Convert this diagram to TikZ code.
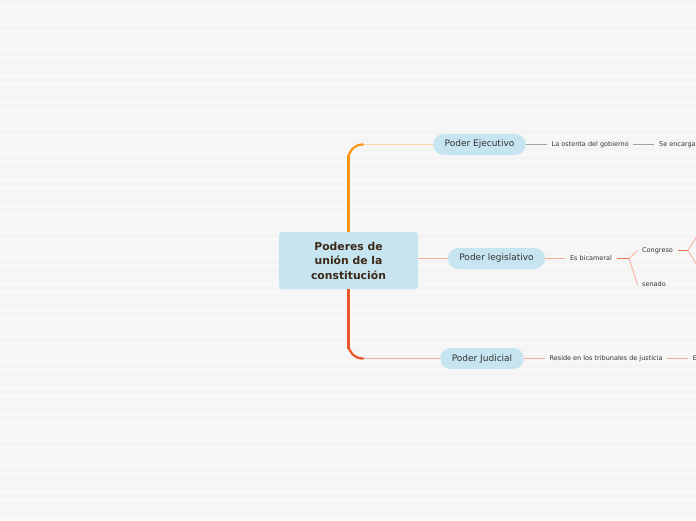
\documentclass[tikz,border=0pt]{standalone}
\usepackage{fontspec}
\setmainfont{DejaVu Sans}
\usetikzlibrary{positioning}

\definecolor{bgcol}{HTML}{F7F7F7}
\definecolor{stripecol}{HTML}{F4F4F4}
\definecolor{pillcol}{HTML}{C6E5F0}
\definecolor{rootink}{HTML}{3B2816}
\definecolor{inkcol}{HTML}{333333}
\definecolor{ejorange}{HTML}{FA9410}
\definecolor{ejlight}{HTML}{FCD7A2}
\definecolor{jured}{HTML}{EB5628}
\definecolor{salmon}{HTML}{F6AC95}
\definecolor{coral}{HTML}{F07650}
\definecolor{greyline}{HTML}{A0A0A0}

\begin{document}
\begin{tikzpicture}[
    x=1pt, y=-1pt,
    node distance=24pt,
    root/.style={fill=pillcol, rounded corners=3pt, minimum width=139pt, minimum height=57pt,
                 align=center, text=rootink, font=\fontsize{10.8}{14.5}\selectfont\bfseries},
    pill/.style={fill=pillcol, rounded corners=10.5pt, minimum height=21pt, inner xsep=11.5pt,
                 text=inkcol, font=\fontsize{9}{10}\selectfont},
    leaf/.style={inner sep=4.5pt, text=inkcol, font=\fontsize{6.5}{7.5}\selectfont},
    stem/.style={line width=3.6pt},
    midstem/.style={line width=2.2pt, rounded corners=14pt},
    twig/.style={line width=0.9pt}
]
\useasboundingbox (0,0) rectangle (696,520);
\clip (0,0) rectangle (696,520);
\fill[bgcol] (0,0) rectangle (696,520);
\foreach \k in {0,...,59}
  \fill[stripecol] (0,\k*8.667) rectangle (696,\k*8.667+4);

% main topic and branches
\node[root] (root) at (348.5,260.5) {Poderes de\\unión de la\\constitución};
\node[pill] (ejec) at (479.5,144.5) {Poder Ejecutivo};
\node[pill] (legis) at (496.5,258.5) {Poder legislativo};
\node[pill] (judic) at (482,358.5) {Poder Judicial};

% sub topics
\node[leaf, right=21pt of ejec] (ostenta) {La ostenta del gobierno};
\node[leaf, right=21pt of ostenta] (encarga) {Se encarga};
\node[leaf, right=20pt of legis] (bicam) {Es bicameral};
\coordinate (bicamfork) at (629,258.5);
\node[leaf, anchor=west] (congreso) at (637.5,250.5) {Congreso};
\node[leaf, anchor=west] (senado) at (637.5,284.5) {senado};
\coordinate (congfork) at (688,250.5);
\coordinate (congup) at (702,228);
\coordinate (congdown) at (702,273);
\node[leaf, right=21pt of judic] (reside) {Reside en los tribunales de justicia};
\node[leaf, right=21pt of reside] (eleaf) {E};

% trunk
\coordinate (ejcorner) at (root.north |- ejec.west);
\coordinate (jucorner) at (root.south |- judic.west);
\draw[twig, ejlight] ([xshift=13pt]ejcorner) -- (ejec.west);
\draw[midstem, ejorange] ([yshift=-16pt]ejcorner) -- (ejcorner) -- ([xshift=15pt]ejcorner);
\draw[stem, ejorange] (root.north) -- ([yshift=-10pt]ejcorner);
\draw[twig, salmon] ([xshift=13pt]jucorner) -- (judic.west);
\draw[midstem, jured] ([yshift=16pt]jucorner) -- (jucorner) -- ([xshift=15pt]jucorner);
\draw[stem, jured] (root.south) -- ([yshift=10pt]jucorner);
\draw[twig, salmon] (root.east |- legis.west) -- (legis.west);

% connectors
\draw[line width=0.8pt, greyline] (ejec.east) -- (ostenta.west);
\draw[line width=0.8pt, greyline] (ostenta.east) -- (encarga.west);
\draw[line width=0.8pt, salmon] (legis.east) -- (bicam.west);
\draw[line width=1pt, coral] (bicam.east) -- (bicamfork);
\draw[line width=0.8pt, salmon] (bicamfork) -- (congreso.west);
\draw[line width=0.8pt, salmon] (bicamfork) -- (senado.west);
\draw[line width=1pt, coral] (congreso.east) -- (congfork);
\draw[line width=0.8pt, salmon] (congfork) -- (congup);
\draw[line width=0.8pt, salmon] (congfork) -- (congdown);
\draw[line width=0.8pt, salmon] (judic.east) -- (reside.west);
\draw[line width=0.8pt, salmon] (reside.east) -- (eleaf.west);
\end{tikzpicture}
\end{document}
